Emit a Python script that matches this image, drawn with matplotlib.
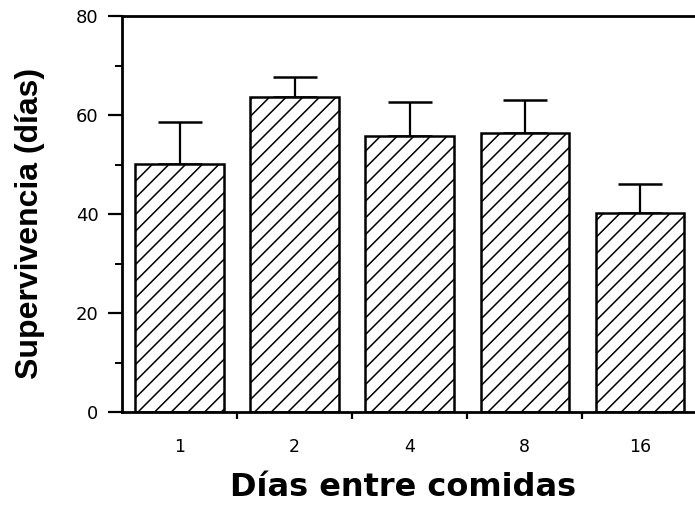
import matplotlib
matplotlib.use("Agg")
import matplotlib.pyplot as plt
from matplotlib.ticker import MultipleLocator, FixedLocator

plt.rcParams['font.family'] = ['DejaVu Sans']
plt.rcParams['hatch.linewidth'] = 1.1

categories = ["1", "2", "4", "8", "16"]
survival = [50.2, 63.6, 55.8, 56.3, 40.2]
error_up = [8.3, 4.1, 6.8, 6.7, 5.8]

fig = plt.figure(figsize=(6.95, 5.05), dpi=100)
ax = fig.add_axes([122 / 695, 93 / 505, 575.5 / 695, 396 / 505])

x = list(range(len(categories)))
ax.bar(x, survival, width=0.77, color="white", edgecolor="black",
       linewidth=1.8, hatch="//", zorder=2)
ax.errorbar(x, survival, yerr=[[0] * len(x), error_up], fmt="none",
            ecolor="black", elinewidth=1.6, capsize=16, capthick=1.8, zorder=1)

ax.set_xlim(-0.5, 4.5)
ax.set_ylim(0, 80)

for side in ("left", "bottom", "top"):
    ax.spines[side].set_linewidth(2)
ax.spines["right"].set_visible(False)

ax.yaxis.set_major_locator(MultipleLocator(20))
ax.yaxis.set_minor_locator(MultipleLocator(10))
ax.tick_params(axis="y", which="major", direction="out", length=10, width=1.6,
               labelsize=13, pad=7)
ax.tick_params(axis="y", which="minor", direction="out", length=5, width=1.4)

ax.set_xticks(x)
ax.set_xticklabels(categories)
ax.xaxis.set_minor_locator(FixedLocator([0.5, 1.5, 2.5, 3.5]))
ax.tick_params(axis="x", which="major", length=0, labelsize=12.5, pad=19)
ax.tick_params(axis="x", which="minor", direction="out", length=5, width=1.6)

fig.text(30 / 695, 1 - 223 / 505, "Supervivencia (días)", rotation=90,
         ha="center", va="center", fontsize=23, fontweight="bold",
         family="Liberation Sans")
fig.text(403 / 695, 1 - 487 / 505, "Días entre comidas",
         ha="center", va="center", fontsize=23, fontweight="bold")

fig.savefig("out.png", dpi=100)
